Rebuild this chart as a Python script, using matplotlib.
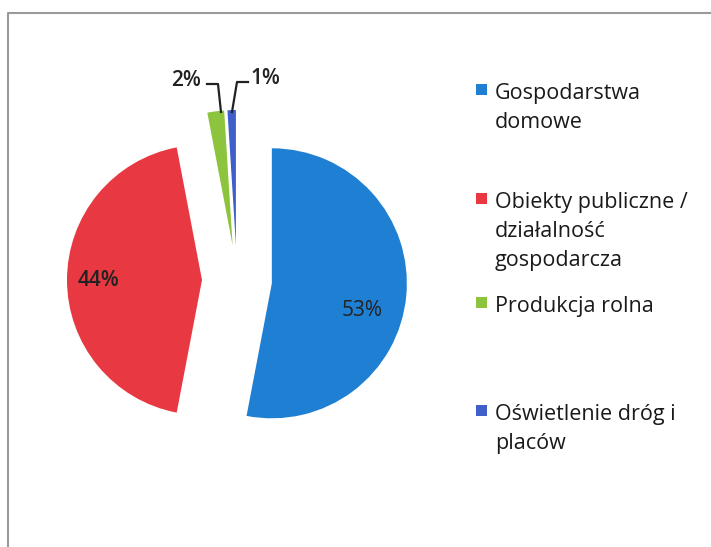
import matplotlib
matplotlib.use("Agg")
import matplotlib.pyplot as plt
from matplotlib.patches import Rectangle

categories = ["Gospodarstwa\ndomowe", "Obiekty publiczne /\ndziałalność\ngospodarcza",
              "Produkcja rolna", "Oświetlenie dróg i\nplaców"]
values = [53, 44, 2, 1]
pct_labels = ["53%", "44%", "2%", "1%"]
colors = ["#1f7fd2", "#e83842", "#8cc43e", "#3f5fc9"]

W, H = 711, 547
fig = plt.figure(figsize=(W / 100, H / 100), dpi=100)
fig.patch.set_facecolor("white")
ax = fig.add_axes([0, 0, 1, 1])

FONT = "Open Sans"

# pie in pixel-like data coordinates (y up)
cx, cy, R = 237, H - 280, 135
wedges, _ = ax.pie(values, colors=colors, startangle=90, counterclock=False,
                   explode=[35] * 4, radius=R, center=(cx, cy),
                   wedgeprops=dict(linewidth=0))
ax.set_xlim(0, W)
ax.set_ylim(0, H)
ax.set_aspect("equal", adjustable="box")
ax.axis("off")

# percentage labels
ax.text(362, H - 310, pct_labels[0], ha="center", va="center", fontsize=15,
        family=FONT, color="#222222")
ax.text(98, H - 281, pct_labels[1], ha="center", va="center", fontsize=15,
        family=FONT, color="#222222", fontweight="semibold")
ax.text(186, H - 80, pct_labels[2], ha="center", va="center", fontsize=15,
        family=FONT, color="#222222", fontweight="semibold")
ax.text(265, H - 78, pct_labels[3], ha="center", va="center", fontsize=15,
        family=FONT, color="#222222", fontweight="semibold")
# leader lines
ax.plot([207, 218, 221], [H - 84, H - 84, H - 112], color="#222222", lw=1.6)
ax.plot([248, 237, 232], [H - 82, H - 82, H - 112], color="#222222", lw=1.6)

# legend (manual, Excel-like)
baselines = [99, 208, 312, 420]
line_gap = 29
for lab, col, b in zip(categories, colors, baselines):
    ax.add_patch(Rectangle((476, H - b + 4.5), 11, 11, facecolor=col, edgecolor="none"))
    for k, line in enumerate(lab.split("\n")):
        ax.text(495, H - (b + k * line_gap), line, ha="left", va="baseline",
                fontsize=15.5, family=FONT, color="#1a1a1a")

# outer frame (chart area border)
ax.plot([8, 8, W + 5], [-5, H - 13, H - 13], color="#9a9a9a", lw=1.5)

fig.savefig("out.png", dpi=100, facecolor="white")
